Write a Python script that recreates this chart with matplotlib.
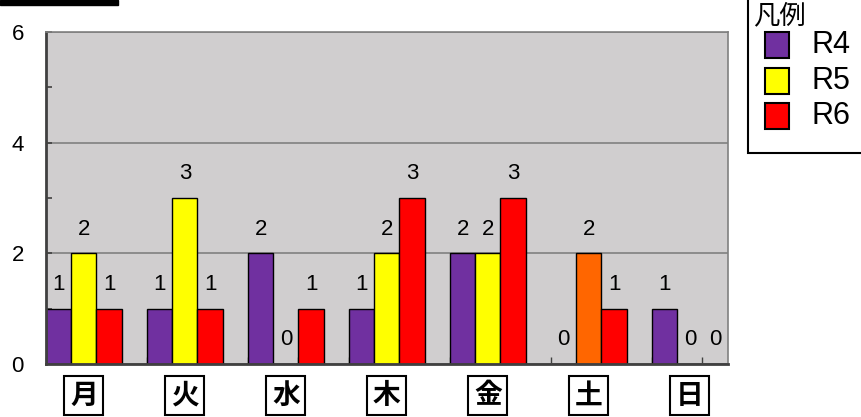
import matplotlib
matplotlib.use('Agg')
import matplotlib.pyplot as plt
import matplotlib.patches as patches
from matplotlib.ticker import MultipleLocator, FixedLocator

plt.rcParams['font.family'] = ['Liberation Sans', 'Noto Sans CJK JP']

# data
days = ['月', '火', '水', '木', '金', '土', '日']
series_names = ['R4', 'R5', 'R6']
r4 = [1, 1, 2, 1, 2, 0, 1]
r5 = [2, 3, 0, 2, 2, 2, 0]
r6 = [1, 1, 1, 3, 3, 1, 0]

colors = ['#7030A0', '#FFFF00', '#FF0000']
special_color = '#FF6600'   # the 土 / R5 bar is orange in the original

W, H = 861, 417
fig = plt.figure(figsize=(W / 100, H / 100), dpi=100)

# helpers for placing things in pixel coordinates of the figure
def px(x):
    return x / W

def py(y):
    return 1 - y / H

ax = fig.add_axes([px(46), py(364), px(727.7) - px(46), py(32) - py(364)])
ax.set_facecolor('#D0CECF')
ax.set_axisbelow(True)

# each group takes 4 bar widths: 3 bars + 1 gap
for k, vals in enumerate([r4, r5, r6]):
    xs = [4 * i + k for i in range(len(days))]
    cols = [colors[k]] * len(days)
    if k == 1:
        cols[5] = special_color
    ax.bar(xs, vals, width=1, align='edge', color=cols, edgecolor='black', linewidth=1)
    for x, v in zip(xs, vals):
        ax.annotate(str(v), (x + 0.5, v), xytext=(0, 13.5), textcoords='offset points',
                    ha='center', va='baseline', fontsize=16)

ax.set_xlim(0, 4 * len(days) - 1)
ax.set_ylim(0, 6)

ax.yaxis.set_major_locator(MultipleLocator(2))
ax.yaxis.set_minor_locator(MultipleLocator(1))
ax.grid(axis='y', which='major', color='#808080', linewidth=1.2)
ax.tick_params(axis='y', which='both', direction='in', length=4, width=1.2,
               color='#404040', labelsize=16, pad=16)
ax.set_yticklabels([str(int(t)) for t in ax.get_yticks()])

ax.xaxis.set_major_locator(FixedLocator([4 * i + j for i in range(len(days)) for j in (0, 2)]))
ax.tick_params(axis='x', which='major', direction='in', length=5, width=1, color='#404040',
               labelbottom=False)

for side in ['top', 'right']:
    ax.spines[side].set_color('#808080')
    ax.spines[side].set_linewidth(1.2)
for side in ['left', 'bottom']:
    ax.spines[side].set_color('#404040')
    ax.spines[side].set_linewidth(2)

# boxed day labels under the groups
for i, d in enumerate(days):
    ax.text(4 * i + 1.5, -0.095, d, transform=ax.get_xaxis_transform(), ha='center', va='center',
            fontsize=20, fontweight='bold', family=['Noto Sans CJK JP'],
            bbox=dict(boxstyle='square,pad=0.2', fc='white', ec='black', lw=1.5))

# black bar at the top left
fig.add_artist(patches.Rectangle((0, py(5)), px(118), 5 / H, transform=fig.transFigure,
                                 color='black', clip_on=False))

# legend drawn by hand
fig.add_artist(patches.Rectangle((px(748), py(153)), px(130), 170 / H, transform=fig.transFigure,
                                 fc='white', ec='black', lw=1.5, clip_on=False))
fig.text(px(753), py(16), '凡例', fontsize=19, family=['Noto Sans CJK JP'], ha='left', va='center')
legend_y = [45, 81, 115.5]
for k, name in enumerate(series_names):
    fig.add_artist(patches.Rectangle((px(765), py(legend_y[k] + 13)), px(24), 26 / H,
                                     transform=fig.transFigure, fc=colors[k], ec='black', lw=1.5))
    fig.text(px(812), py(legend_y[k]), name, fontsize=22, ha='left', va='center')

fig.savefig('out.png', dpi=100)
